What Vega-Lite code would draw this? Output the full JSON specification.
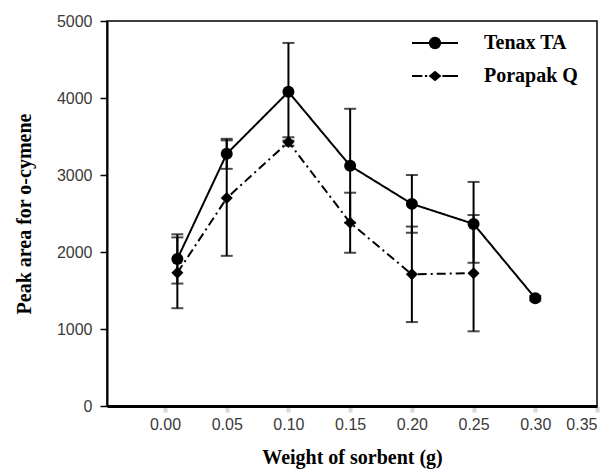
{
  "$schema": "https://vega.github.io/schema/vega-lite/v6.json",
  "width": 490,
  "height": 385,
  "autosize": {"type": "none"},
  "padding": {"left": 107, "top": 21, "right": 18, "bottom": 64},
  "background": "white",
  "config": {
    "view": {"stroke": "black", "strokeWidth": 1.5},
    "axis": {
      "grid": false,
      "labelFont": "Liberation Sans",
      "labelFontSize": 16,
      "labelColor": "#3a3a3a",
      "titleFont": "Liberation Serif",
      "titleFontWeight": "bold",
      "titleFontSize": 20,
      "titleColor": "black",
      "domainColor": "black",
      "tickColor": "black"
    }
  },
  "data": {
    "values": [
      {"series": "Tenax TA", "w": 0.01, "area": 1910, "lo": 1590, "hi": 2230},
      {"series": "Tenax TA", "w": 0.05, "area": 3275, "lo": 3080, "hi": 3470},
      {"series": "Tenax TA", "w": 0.10, "area": 4080, "lo": 3445, "hi": 4715},
      {"series": "Tenax TA", "w": 0.15, "area": 3120, "lo": 2380, "hi": 3860},
      {"series": "Tenax TA", "w": 0.20, "area": 2625, "lo": 2250, "hi": 3000},
      {"series": "Tenax TA", "w": 0.25, "area": 2365, "lo": 1860, "hi": 2910},
      {"series": "Tenax TA", "w": 0.30, "area": 1400, "lo": 1370, "hi": 1430},
      {"series": "Porapak Q", "w": 0.01, "area": 1730, "lo": 1270, "hi": 2190},
      {"series": "Porapak Q", "w": 0.05, "area": 2700, "lo": 1950, "hi": 3450},
      {"series": "Porapak Q", "w": 0.10, "area": 3430, "lo": 3380, "hi": 3490},
      {"series": "Porapak Q", "w": 0.15, "area": 2380, "lo": 1990, "hi": 2770},
      {"series": "Porapak Q", "w": 0.20, "area": 1710, "lo": 1090, "hi": 2330},
      {"series": "Porapak Q", "w": 0.25, "area": 1725, "lo": 970, "hi": 2480}
    ]
  },
  "encoding": {
    "x": {
      "field": "w", "type": "quantitative",
      "scale": {"domain": [-0.047, 0.35], "nice": false, "zero": false},
      "axis": {
        "title": "Weight of sorbent (g)",
        "values": [0, 0.05, 0.1, 0.15, 0.2, 0.25, 0.3, 0.35],
        "format": ".2f",
        "domainWidth": 3,
        "tickColor": "#d8d8d8",
        "tickWidth": 4,
        "tickSize": 6,
        "labelPadding": 4,
        "titlePadding": 15
      }
    }
  },
  "resolve": {"scale": {"shape": "independent"}},
  "layer": [
    {
      "mark": {"type": "rule", "color": "black", "strokeWidth": 2},
      "encoding": {
        "y": {"field": "lo", "type": "quantitative",
          "scale": {"domain": [0, 5000], "nice": false},
          "axis": {
            "title": "Peak area for o-cymene",
            "values": [0, 1000, 2000, 3000, 4000, 5000],
            "format": "d",
            "domainWidth": 2,
            "tickSize": 7,
            "tickWidth": 1.5,
            "labelPadding": 8,
            "titlePadding": 22
          }},
        "y2": {"field": "hi"}
      }
    },
    {
      "mark": {"type": "tick", "orient": "horizontal", "color": "black", "size": 12, "thickness": 2},
      "encoding": {"y": {"field": "lo", "type": "quantitative"}}
    },
    {
      "mark": {"type": "tick", "orient": "horizontal", "color": "black", "size": 12, "thickness": 2},
      "encoding": {"y": {"field": "hi", "type": "quantitative"}}
    },
    {
      "mark": {"type": "line", "strokeWidth": 2, "color": "black"},
      "encoding": {
        "y": {"field": "area", "type": "quantitative"},
        "strokeDash": {
          "field": "series", "type": "nominal",
          "scale": {"domain": ["Tenax TA", "Porapak Q"], "range": [[1, 0], [9, 4, 2, 4]]},
          "legend": null
        }
      }
    },
    {
      "mark": {"type": "point", "filled": true, "color": "black", "opacity": 1, "size": 144},
      "encoding": {
        "y": {"field": "area", "type": "quantitative"},
        "shape": {
          "field": "series", "type": "nominal",
          "scale": {"domain": ["Tenax TA", "Porapak Q"], "range": ["circle", "diamond"]},
          "legend": null
        }
      }
    },
    {
      "mark": {"type": "point", "filled": true, "color": "black", "opacity": 0, "size": 144},
      "encoding": {
        "y": {"field": "area", "type": "quantitative"},
        "shape": {
          "field": "series", "type": "nominal",
          "scale": {"domain": ["Tenax TA", "Porapak Q"], "range": [
            "M-1,-0.045H1V0.045H-1ZM0.27,0L0.249,0.103L0.191,0.191L0.103,0.249L0,0.27L-0.103,0.249L-0.191,0.191L-0.249,0.103L-0.27,0L-0.249,-0.103L-0.191,-0.191L-0.103,-0.249L0,-0.27L0.103,-0.249L0.191,-0.191L0.249,-0.103Z",
            "M-1,-0.045H-0.55V0.045H-1ZM-0.44,-0.045H-0.34V0.045H-0.44ZM-0.28,0L0,-0.23L0.28,0L0,0.23ZM0.32,-0.045H1V0.045H0.32Z"
          ]},
          "legend": {
            "orient": "none",
            "legendX": 305,
            "legendY": -1,
            "title": null,
            "padding": 0,
            "symbolSize": 2116,
            "symbolOpacity": 1,
            "symbolFillColor": "black",
            "symbolStrokeColor": "black",
            "symbolStrokeWidth": 0,
            "labelFont": "Liberation Serif",
            "labelFontWeight": "bold",
            "labelFontSize": 20,
            "labelColor": "black",
            "labelOffset": 26,
            "rowPadding": -11,
            "encode": {
              "symbols": {
                "update": {
                  "fill": {"value": "black"},
                  "opacity": {"value": 1}
                }
              }
            }
          }
        }
      }
    }
  ]
}
